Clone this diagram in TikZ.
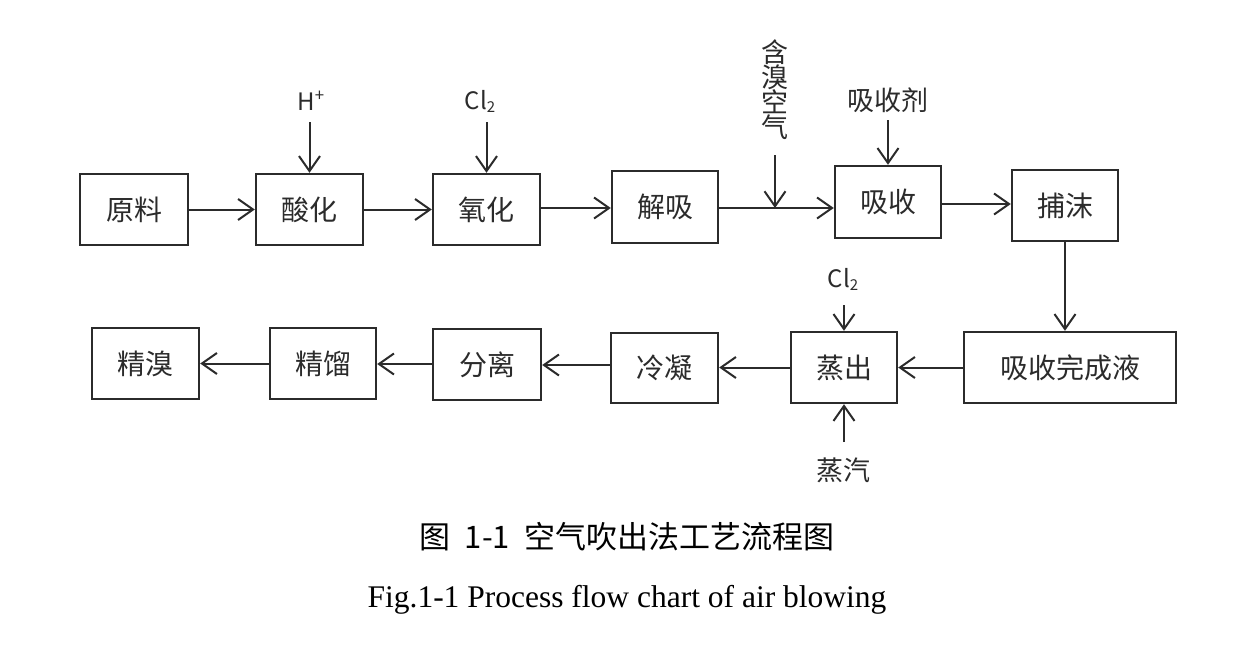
\documentclass[tikz,border=0pt]{standalone}
\usepackage{fontspec}
\setmainfont{Liberation Serif}
\newfontfamily\cjk{Noto Sans CJK SC}
\usetikzlibrary{arrows.meta}
\definecolor{ink}{HTML}{2B2B2B}
\tikzset{
  box/.style={draw=ink, line width=2.4pt, inner sep=0pt, text=ink, font=\cjk\fontsize{28}{30}\selectfont},
  lbl/.style={inner sep=0pt, text=ink, font=\cjk\fontsize{27}{28}\selectfont},
  arr/.style={draw=ink, line width=2pt, -{Straight Barb[length=15pt,width=21pt,line width=2pt]}},
}
\begin{document}
\begin{tikzpicture}[x=1pt,y=-1pt]
\useasboundingbox (0,0) rectangle (1235,648);
% row 1
\node[box, minimum width=108pt, minimum height=71pt] (yl) at (134,209.5) {原料};
\node[box, minimum width=107pt, minimum height=71pt] (sh) at (309.5,209.5) {酸化};
\node[box, minimum width=107pt, minimum height=71pt] (yh) at (486.5,209.5) {氧化};
\node[box, minimum width=106pt, minimum height=72pt] (jx) at (665,207) {解吸};
\node[box, minimum width=106pt, minimum height=72pt] (xs) at (888,202) {吸收};
\node[box, minimum width=106pt, minimum height=71pt] (bm) at (1065,205.5) {捕沫};
% row 2
\node[box, minimum width=212pt, minimum height=71pt] (wc) at (1070,367.5) {吸收完成液};
\node[box, minimum width=106pt, minimum height=71pt] (zc) at (844,367.5) {蒸出};
\node[box, minimum width=107pt, minimum height=70pt] (ln) at (664.5,368) {冷凝};
\node[box, minimum width=108pt, minimum height=71pt] (fl) at (487,364.5) {分离};
\node[box, minimum width=106pt, minimum height=71pt] (jl) at (323,363.5) {精馏};
\node[box, minimum width=107pt, minimum height=71pt] (jxiu) at (145.5,363.5) {精溴};
% input labels
\node[lbl, font=\cjk\fontsize{24}{24}\selectfont] (hp) at (311,101) {H\textsuperscript{+}};
\node[lbl, font=\cjk\fontsize{24}{24}\selectfont] (cl1) at (480,101) {Cl\raisebox{-3pt}{\fontsize{15}{15}\selectfont 2}};
\node[lbl, align=center, font=\cjk\fontsize{27}{26}\selectfont] (air) at (775,90) {含\\[-1pt]溴\\[-1pt]空\\[-1pt]气};
\node[lbl] (xsj) at (888,100) {吸收剂};
\node[lbl, font=\cjk\fontsize{24}{24}\selectfont] (cl2) at (843,279) {Cl\raisebox{-3pt}{\fontsize{15}{15}\selectfont 2}};
\node[lbl] (zq) at (843,470) {蒸汽};
\coordinate (J) at (775,208);
% arrows row 1
\draw[arr] (yl.east) -- (yl.east -| sh.west);
\draw[arr] (sh.east) -- (sh.east -| yh.west);
\draw[arr] (yh.east |- 0,208) -- (jx.west |- 0,208);
\draw[draw=ink, line width=2pt] (jx.east |- J) -- (J);
\draw[arr] (J) -- (J -| xs.west);
\draw[arr] (xs.east |- 0,204) -- (bm.west |- 0,204);
\draw[arr] (bm.south) -- (bm.south |- wc.north);
% arrows row 2
\draw[arr] (wc.west) -- (wc.west -| zc.east);
\draw[arr] (zc.west) -- (zc.west -| ln.east);
\draw[arr] (ln.west |- 0,365) -- (fl.east |- 0,365);
\draw[arr] (fl.west |- 0,364) -- (jl.east |- 0,364);
\draw[arr] (jl.west) -- (jl.west -| jxiu.east);
% input arrows
\draw[arr] (sh.north |- 0,122) -- (sh.north);
\draw[arr] (yh.north |- 0,122) -- (yh.north);
\draw[arr] (J |- 0,155) -- (J);
\draw[arr] (xs.north |- 0,120) -- (xs.north);
\draw[arr] (zc.north |- 0,305) -- (zc.north);
\draw[arr] (zc.south |- 0,442) -- (zc.south);
% caption
\node[inner sep=0pt, font=\cjk\fontsize{31}{32}\selectfont, text=black] (cap1) at (627,537) {图\hspace{14pt}1-1\hspace{14pt}空气吹出法工艺流程图};
\node[inner sep=0pt, font=\fontsize{31.5}{33}\selectfont, text=black] (cap2) at (627,600) {Fig.1-1 Process flow chart of air blowing};
\end{tikzpicture}
\end{document}
